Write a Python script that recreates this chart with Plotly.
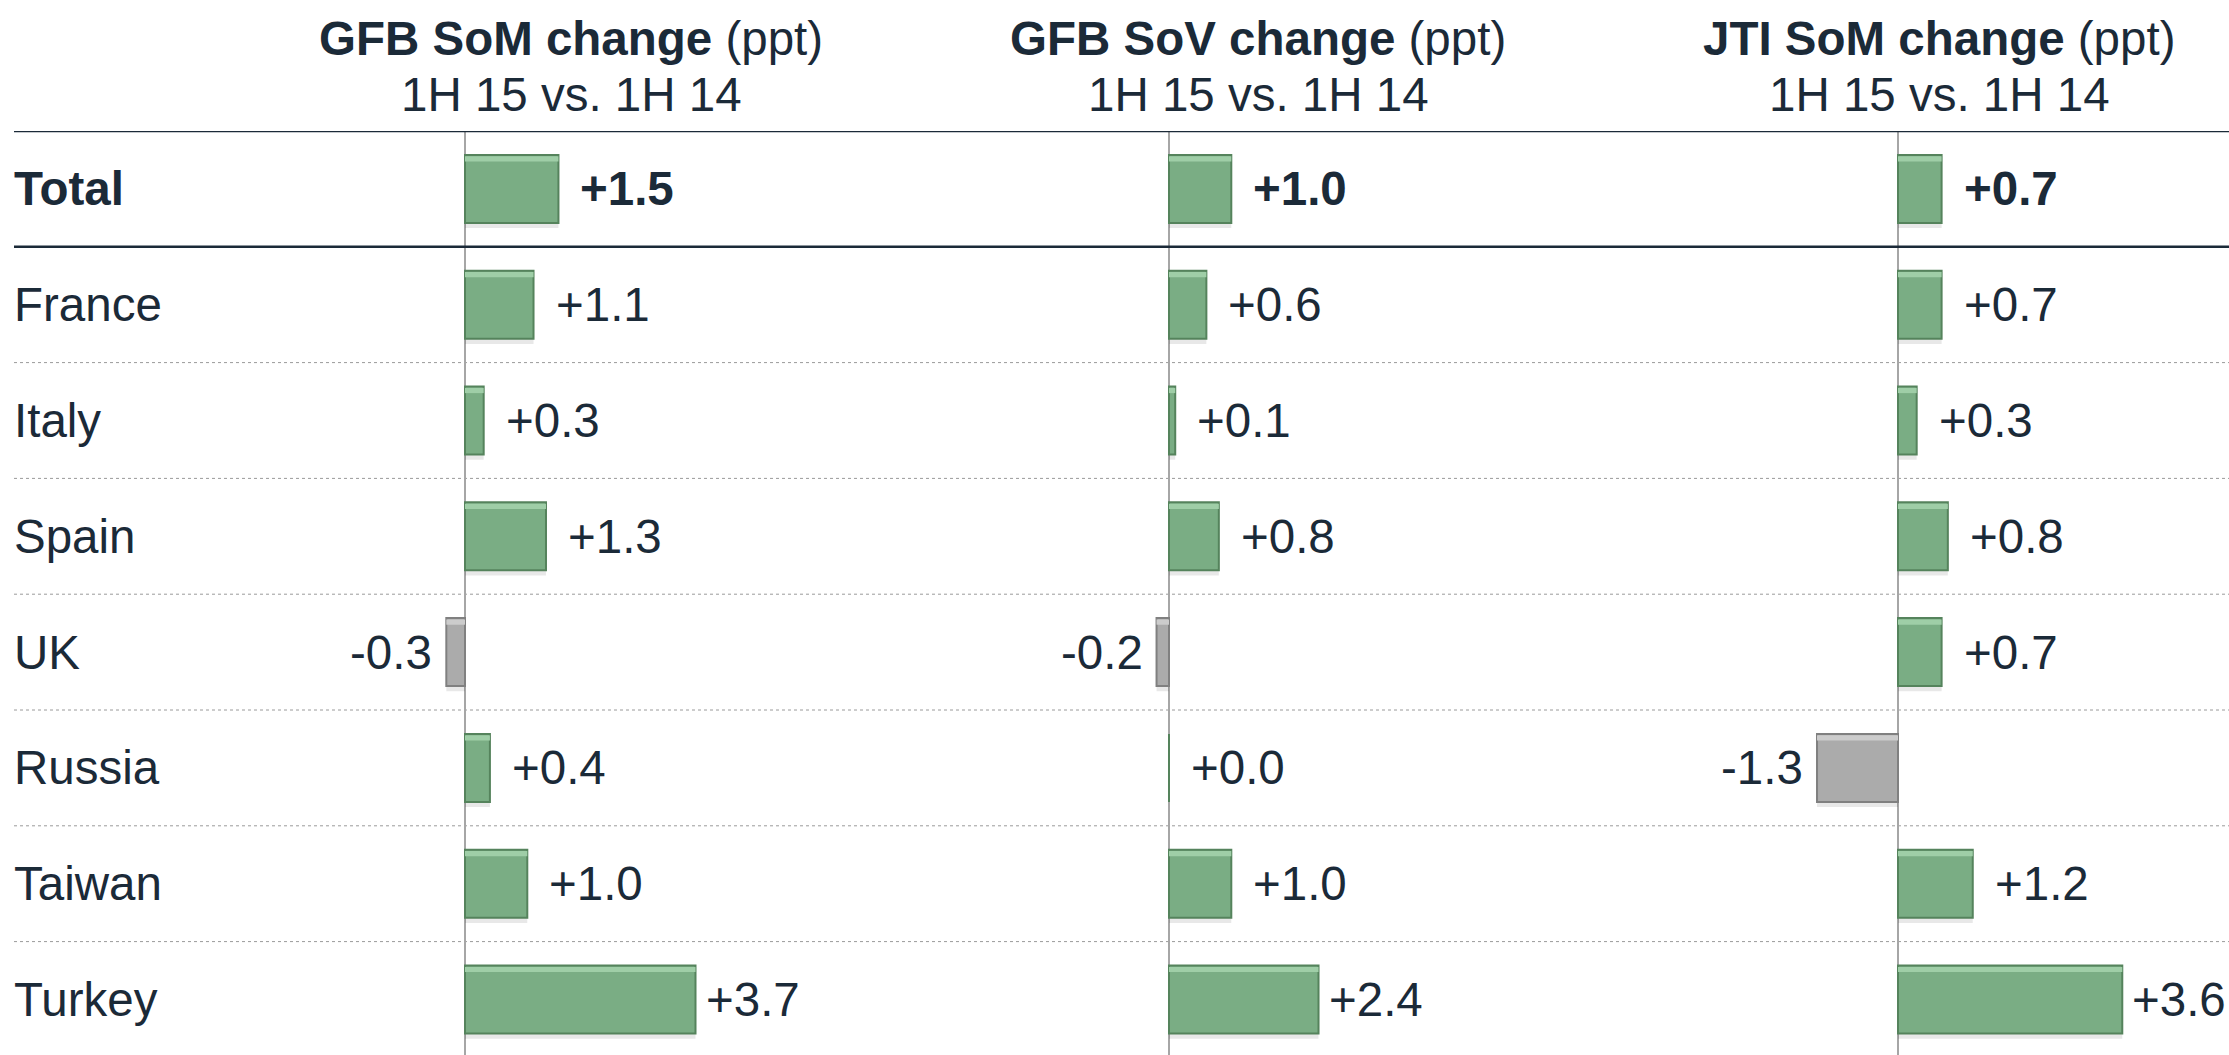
import plotly.graph_objects as go

# ---------------- data ----------------
categories = ["Total", "France", "Italy", "Spain", "UK", "Russia", "Taiwan", "Turkey"]
gfb_som_change = [1.5, 1.1, 0.3, 1.3, -0.3, 0.4, 1.0, 3.7]
gfb_sov_change = [1.0, 0.6, 0.1, 0.8, -0.2, 0.0, 1.0, 2.4]
jti_som_change = [0.7, 0.7, 0.3, 0.8, 0.7, -1.3, 1.2, 3.6]
panel_titles = ["GFB SoM change", "GFB SoV change", "JTI SoM change"]
panel_unit = "(ppt)"
panel_subtitle = "1H 15 vs. 1H 14"

# ---------------- layout geometry (pixels) ----------------
W, H = 2229, 1055
ROW_TOP = 131          # y pixel of header rule
ROW_H = 115.8          # row pitch
PX_PER_UNIT = 62.3     # horizontal scale shared by all panels
panels = [  # (domain start px, domain end px, zero px, header centre px)
    (300, 1000, 465, 571),
    (1000, 1700, 1169, 1258),
    (1700, 2229, 1898, 1939),
]

TEXT = "#1b2a38"
GREEN = "#7aad84"
GREEN_EDGE = "#55835c"
GREEN_HI = "#9fcea7"
GREY = "#ababab"
GREY_EDGE = "#808080"
GREY_HI = "#cccccc"
FONT = "Liberation Sans, Arial, sans-serif"
FS = 47.5
BW = 0.587

fig = go.Figure()
series = [gfb_som_change, gfb_sov_change, jti_som_change]
annotations = []
layout_axes = {}

for i, (vals, (a, b, z, hc)) in enumerate(zip(series, panels)):
    xname = "x" if i == 0 else f"x{i+1}"
    axkey = "xaxis" if i == 0 else f"xaxis{i+1}"
    # soft shadow
    fig.add_trace(go.Bar(
        y=categories, x=vals, orientation="h", xaxis=xname, yaxis="y",
        width=BW, offset=-BW / 2 + 0.045,
        marker=dict(color="rgba(0,0,0,0.09)", line=dict(width=0)),
        hoverinfo="skip", showlegend=False,
    ))
    # main bars
    fig.add_trace(go.Bar(
        y=categories, x=vals, orientation="h",
        xaxis=xname, yaxis="y", width=BW, offset=-BW / 2,
        marker=dict(color=[GREEN if v >= 0 else GREY for v in vals],
                    line=dict(color=[GREEN_EDGE if v >= 0 else GREY_EDGE for v in vals], width=2)),
        hoverinfo="skip", showlegend=False,
    ))
    # bevel highlight on top edge
    fig.add_trace(go.Bar(
        y=categories, x=vals, orientation="h",
        xaxis=xname, yaxis="y", width=0.045, offset=-BW / 2 + 0.012,
        marker=dict(color=[GREEN_HI if v >= 0 else GREY_HI for v in vals], line=dict(width=0)),
        hoverinfo="skip", showlegend=False,
    ))
    layout_axes[axkey] = dict(
        domain=[a / W, b / W],
        range=[-(z - a) / PX_PER_UNIT, (b - z) / PX_PER_UNIT],
        showgrid=False, showticklabels=False, ticks="",
        zeroline=True, zerolinecolor="#a6a6a6", zerolinewidth=2,
        showline=False, anchor="y", fixedrange=True,
    )
    # value labels
    for cat, v in zip(categories, vals):
        txt = f"{v:+.1f}"
        if cat == "Total":
            txt = f"<b>{txt}</b>"
        if v >= 0:
            shift = 8 if v > 2 else 20
            annotations.append(dict(x=v, y=cat, xref=xname, yref="y", text=txt,
                                    xanchor="left", yanchor="middle", xshift=shift,
                                    showarrow=False, font=dict(size=FS, color=TEXT, family=FONT)))
        else:
            annotations.append(dict(x=v, y=cat, xref=xname, yref="y", text=txt,
                                    xanchor="right", yanchor="middle", xshift=-12,
                                    showarrow=False, font=dict(size=FS, color=TEXT, family=FONT)))
    # headers
    annotations.append(dict(x=hc / W, y=1 - 38 / H, xref="paper", yref="paper",
                            text=f"<b>{panel_titles[i]}</b> {panel_unit}",
                            xanchor="center", yanchor="middle", showarrow=False,
                            font=dict(size=FS, color=TEXT, family=FONT)))
    annotations.append(dict(x=hc / W, y=1 - 94 / H, xref="paper", yref="paper",
                            text=panel_subtitle,
                            xanchor="center", yanchor="middle", showarrow=False,
                            font=dict(size=FS, color=TEXT, family=FONT)))

# row labels
for cat in categories:
    annotations.append(dict(x=12 / W, y=cat, xref="paper", yref="y",
                            text=f"<b>{cat}</b>" if cat == "Total" else cat,
                            xanchor="left", yanchor="middle", showarrow=False,
                            font=dict(size=FS, color=TEXT, family=FONT)))

# separators
shapes = []
x_left = 14 / W
shapes.append(dict(type="line", xref="paper", yref="y", x0=x_left, x1=1, y0=-0.5, y1=-0.5,
                   line=dict(color=TEXT, width=2.5)))
shapes.append(dict(type="line", xref="paper", yref="y", x0=x_left, x1=1, y0=0.5, y1=0.5,
                   line=dict(color=TEXT, width=2.5)))
for k in range(1, len(categories) - 1):
    shapes.append(dict(type="line", xref="paper", yref="y", x0=x_left, x1=1,
                       y0=k + 0.5, y1=k + 0.5, layer="below",
                       line=dict(color="#9a9a9a", width=1, dash="dot")))

y_bottom = -0.5 + (H - ROW_TOP) / ROW_H
fig.update_layout(
    width=W, height=H,
    margin=dict(l=0, r=0, t=0, b=0),
    paper_bgcolor="white", plot_bgcolor="white",
    yaxis=dict(domain=[0, 1 - ROW_TOP / H], range=[y_bottom, -0.5],
               categoryorder="array", categoryarray=categories,
               showticklabels=False, showgrid=False, zeroline=False, ticks="",
               fixedrange=True),
    annotations=annotations,
    shapes=shapes,
    barmode="overlay",
    **layout_axes,
)

fig.write_html("out.html", config={"displayModeBar": False},
               post_script="document.body.style.margin='0';")
